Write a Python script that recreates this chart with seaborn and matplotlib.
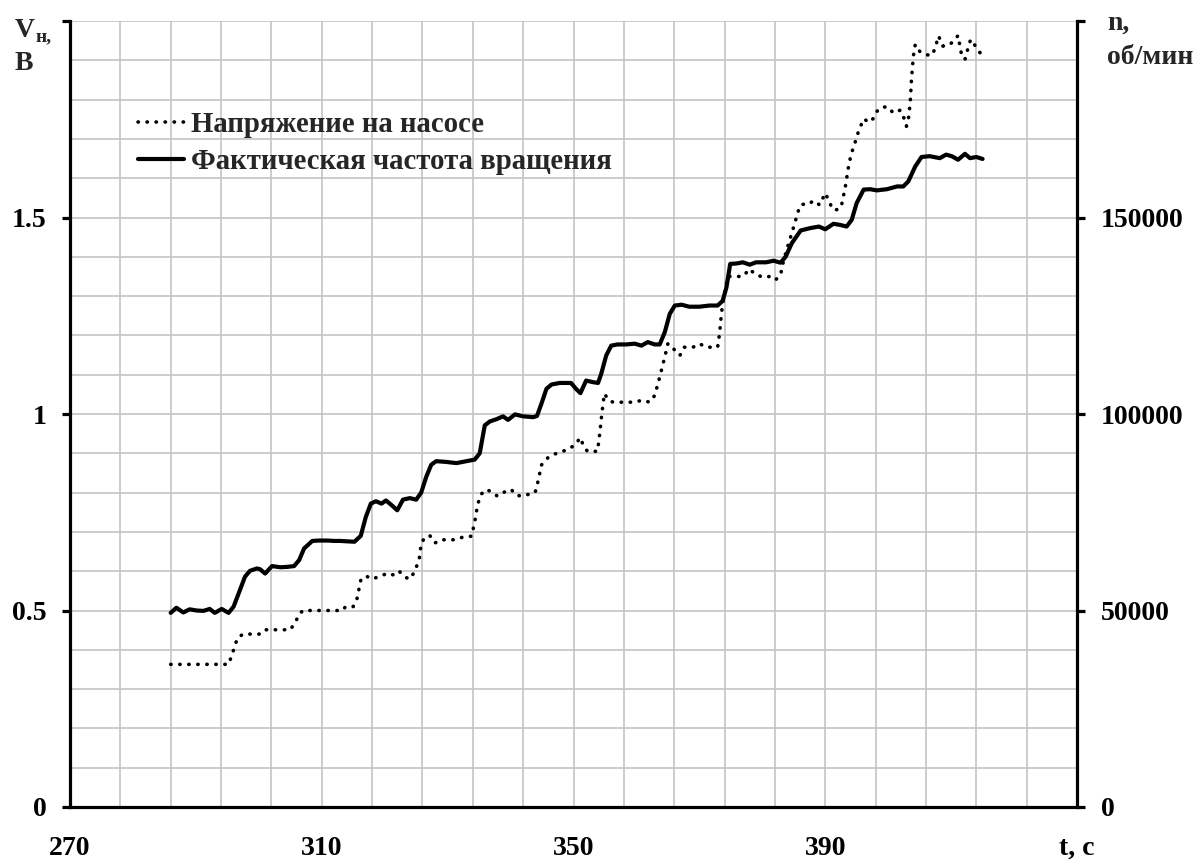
import matplotlib
matplotlib.use("Agg")
import matplotlib.pyplot as plt
import numpy as np
import seaborn as sns

# Pump voltage, V (left axis)
t_voltage = [286.0, 287, 288, 289, 290, 291, 292, 293, 294, 295.2, 296, 296.6, 297.5, 298.5, 299.5,
             300.2, 301, 302, 303, 304, 305, 305.8, 306.4, 307, 308, 309, 310, 311, 312, 313.3,
             313.8, 315, 315.6, 316.2, 317, 318, 319.4, 320.5, 321.5, 322.3, 323.2, 324, 324.8,
             325.5, 325.8, 326.4, 327.2, 328, 329, 330, 331.1, 332.5, 333.8, 334.3, 334.8, 335.4,
             336.1, 337, 337.9, 338.8, 340.1, 340.9, 342, 343.1, 343.9, 344.4, 344.9, 346, 347.3,
             349.2, 350.5, 351, 351.6, 352.2, 353, 353.8, 354.1, 354.5, 354.9, 355.6, 356.3, 357.5,
             358.4, 359.5, 361, 362.1, 362.9, 363.7, 364.5, 365, 365.5, 366.1, 366.9, 367.6, 369,
             370, 371.1, 372.9, 373.2, 373.5, 373.7, 374.5, 375.9, 376.9, 378, 378.8, 380.1, 381.2,
             382.1, 382.9, 383.4, 384.2, 385, 385.8, 386.3, 387.1, 388.2, 389.1, 390, 390.5, 391.2,
             392.1, 392.6, 393.2, 393.7, 394.1, 394.8, 395.3, 396.1, 397, 397.7, 398.2, 399, 400,
             400.8, 401.9, 402.4, 402.9, 403.2, 403.5, 403.7, 404, 404.3, 405, 405.8, 406.9, 407.4,
             408, 408.7, 409.8, 410.6, 411.1, 411.6, 412.2, 412.7, 413.1, 413.7, 414.6]
voltage = [0.363, 0.363, 0.363, 0.363, 0.363, 0.363, 0.363, 0.363, 0.363, 0.363, 0.40, 0.43, 0.44,
           0.44, 0.44, 0.44, 0.451, 0.451, 0.451, 0.451, 0.451, 0.47, 0.49, 0.50, 0.50, 0.50, 0.50,
           0.50, 0.50, 0.50, 0.51, 0.51, 0.53, 0.577, 0.588, 0.58, 0.588, 0.595, 0.59, 0.60, 0.585,
           0.58, 0.60, 0.632, 0.67, 0.687, 0.69, 0.672, 0.68, 0.68, 0.68, 0.687, 0.689, 0.725,
           0.772, 0.797, 0.808, 0.802, 0.791, 0.80, 0.808, 0.793, 0.791, 0.797, 0.80, 0.831, 0.87,
           0.89, 0.90, 0.91, 0.925, 0.94, 0.92, 0.905, 0.905, 0.905, 0.94, 1.00, 1.052, 1.035,
           1.03, 1.03, 1.03, 1.03, 1.035, 1.03, 1.047, 1.094, 1.145, 1.179, 1.174, 1.162, 1.149,
           1.17, 1.17, 1.179, 1.17, 1.17, 1.204, 1.255, 1.28, 1.35, 1.35, 1.35, 1.369, 1.356,
           1.348, 1.35, 1.341, 1.354, 1.392, 1.435, 1.477, 1.521, 1.534, 1.532, 1.543, 1.532,
           1.562, 1.545, 1.52, 1.52, 1.532, 1.579, 1.63, 1.66, 1.694, 1.72, 1.751, 1.742, 1.753,
           1.77, 1.781, 1.781, 1.766, 1.773, 1.758, 1.732, 1.749, 1.792, 1.851, 1.911, 1.94,
           1.923, 1.915, 1.912, 1.928, 1.962, 1.936, 1.94, 1.953, 1.963, 1.919, 1.902, 1.932,
           1.953, 1.94, 1.919]

# Actual rotation speed, rpm (right axis)
t_speed = [286.0, 286.9, 288, 289, 290.1, 291.2, 292.2, 293, 294.1, 295.2, 296, 297, 297.8, 298.6,
           299.7, 300.2, 301, 302.1, 303.4, 304.5, 305.6, 306.4, 307.2, 308.5, 309.5, 310.9, 312,
           313, 314, 315.2, 316.2, 317, 317.8, 318.6, 319.5, 320.2, 321.1, 322, 322.9, 324, 325,
           325.8, 326.6, 327.4, 328.2, 329.8, 331.4, 333, 334.3, 335.1, 335.9, 336.7, 337.8, 338.8,
           339.6, 340.7, 342, 343.6, 344.2, 344.9, 345.7, 346.5, 347.8, 349.6, 350.4, 351.1, 352,
           353.1, 353.9, 354.4, 355.2, 356, 357, 358.4, 359.7, 360.8, 361.8, 362.9, 363.7, 364.5,
           365.3, 366.1, 367.2, 368.4, 370, 371.6, 372.9, 373.7, 374.3, 374.9, 375.9, 376.9, 378,
           379, 380.6, 381.8, 382.9, 383.7, 384.7, 386.1, 387.6, 389, 390, 391.3, 392.4, 393.4,
           394.2, 395, 396.1, 397.1, 398.2, 399.8, 401.4, 402.4, 403.2, 404.3, 405.3, 406.6, 408.2,
           409.2, 410.1, 411.1, 412.2, 413, 414, 415.0]
speed = [49400, 50700, 49500, 50300, 50000, 49900, 50400, 49400, 50400, 49400, 51000, 55200, 58600,
         60100, 60700, 60500, 59400, 61300, 61000, 61100, 61300, 62800, 65800, 67700, 67800, 67800,
         67700, 67700, 67600, 67500, 69000, 73800, 77200, 77800, 77200, 78000, 76800, 75500, 78200,
         78600, 78200, 80000, 84000, 87100, 88000, 87800, 87500, 88000, 88400, 90000, 97100, 98100,
         98700, 99400, 98500, 99900, 99400, 99200, 99500, 102600, 106400, 107500, 107900, 107900,
         106400, 105300, 108500, 108100, 107900, 110200, 114900, 117400, 117700, 117700, 117900,
         117400, 118300, 117700, 117700, 120800, 125500, 127600, 127800, 127300, 127300, 127600,
         127600, 128800, 132200, 138200, 138300, 138600, 138000, 138600, 138600, 139000, 138500,
         140000, 143500, 146700, 147300, 147700, 147000, 148400, 148100, 147700, 149400, 153700,
         157100, 157200, 156900, 157200, 157900, 157900, 159200, 163000, 165400, 165600, 165100,
         166000, 165600, 164700, 166200, 165100, 165400, 164900]

x_ticks = [270, 310, 350, 390, 430]
x_tick_labels = ["270", "310", "350", "390", "t, с"]
v_ticks = [0, 0.5, 1.0, 1.5, 2.0]
v_tick_labels = ["0", "0.5", "1", "1.5", ""]
n_ticks = [0, 50000, 100000, 150000, 200000]
n_tick_labels = ["0", "50000", "100000", "150000", ""]
legend_labels = ["Напряжение на насосе", "Фактическая частота вращения"]

sns.set_theme(style="white")
plt.rcParams["font.family"] = ["Liberation Serif", "DejaVu Serif"]
plt.rcParams["font.weight"] = "bold"

W, H = 1202, 860
fig = plt.figure(figsize=(W / 100, H / 100), dpi=100)
ax = fig.add_axes([70 / W, 1 - 807 / H, (1077 - 70) / W, (807 - 21) / H])
ax2 = ax.twinx()

sns.lineplot(x=t_voltage, y=voltage, ax=ax, color="black", linewidth=2.6,
             linestyle=(0, (0.1, 2.4)), dash_capstyle="round", sort=False,
             estimator=None, legend=False, zorder=3)
sns.lineplot(x=t_speed, y=speed, ax=ax2, color="black", linewidth=3.0,
             solid_joinstyle="round", solid_capstyle="round", sort=False,
             estimator=None, legend=False, zorder=3)

ax.set_xlim(270, 430)
ax.set_ylim(0, 2.0)
ax2.set_ylim(0, 200000)

ax.set_xticks(x_ticks)
ax.set_xticklabels(x_tick_labels)
ax.set_xticks(np.arange(270, 431, 8), minor=True)
ax.set_yticks(v_ticks)
ax.set_yticklabels(v_tick_labels)
ax.set_yticks(np.linspace(0, 2.0, 21), minor=True)
ax2.set_yticks(n_ticks)
ax2.set_yticklabels(n_tick_labels)

ax.grid(which="both", color="#c4c4c4", linewidth=1.2)
ax2.grid(False)
ax.set_axisbelow(True)

for a in (ax, ax2):
    a.set_xlabel("")
    a.set_ylabel("")
    for s in a.spines.values():
        s.set_visible(False)
ax.spines["left"].set_visible(True)
ax.spines["bottom"].set_visible(True)
ax2.spines["right"].set_visible(True)
for s in (ax.spines["left"], ax.spines["bottom"], ax2.spines["right"]):
    s.set_color("black")
    s.set_linewidth(2.3)

ax.tick_params(axis="both", which="major", direction="out", length=6, width=2.3,
               color="black", labelsize=20, labelcolor="black")
ax.tick_params(axis="y", which="major", pad=11)
ax.tick_params(axis="x", which="major", pad=15)
ax.tick_params(which="minor", length=0)
ax2.tick_params(axis="y", which="major", direction="out", length=6, width=2.3,
                color="black", labelsize=20, labelcolor="black", pad=11)
ax2.tick_params(which="minor", length=0)
for lab in ax.get_xticklabels() + ax.get_yticklabels() + ax2.get_yticklabels():
    lab.set_fontweight("bold")

handles = [ax.get_lines()[0], ax2.get_lines()[0]]
ax.legend(handles, legend_labels, loc="upper left", bbox_to_anchor=(0.0675, 0.8855),
          frameon=False, prop={"weight": "bold", "size": 20.7},
          handlelength=1.6, handletextpad=0.25, labelspacing=0.35,
          borderpad=0, borderaxespad=0)


def px(x, y):
    return x / W, 1 - y / H


fig.text(*px(15, 37), "V", fontsize=20, fontweight="bold", va="baseline", ha="left")
fig.text(*px(36, 41), "н,", fontsize=14, fontweight="bold", va="baseline", ha="left")
fig.text(*px(15, 70), "В", fontsize=20, fontweight="bold", va="baseline", ha="left")
fig.text(*px(1107, 30), "n,", fontsize=20, fontweight="bold", va="baseline", ha="left")
fig.text(*px(1107, 64), "об/мин", fontsize=20, fontweight="bold", va="baseline", ha="left")

fig.savefig("out.png", dpi=100)
